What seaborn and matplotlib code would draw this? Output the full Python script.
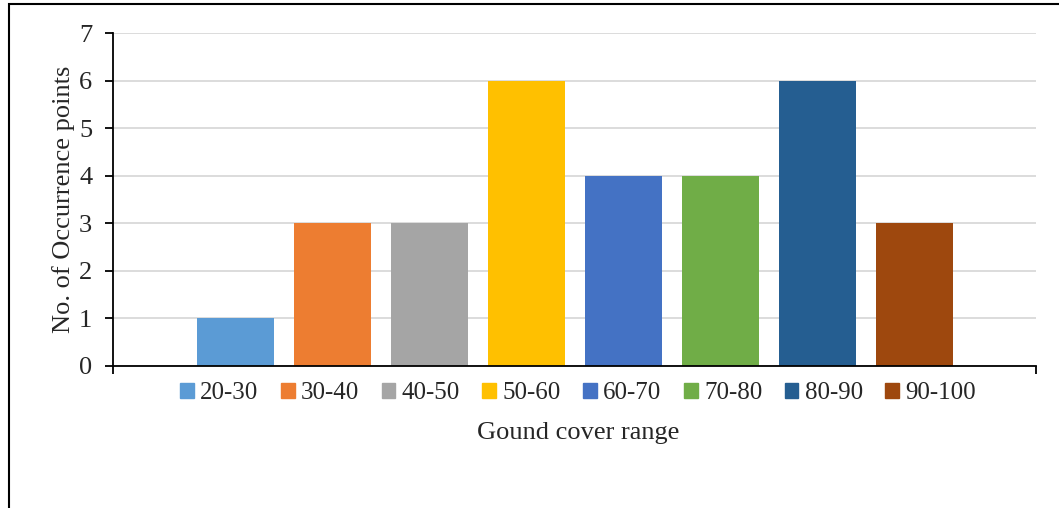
import numpy as np
import pandas as pd
import seaborn as sns
import matplotlib.pyplot as plt
from matplotlib.patches import Rectangle

# data
ranges = ['20-30', '30-40', '40-50', '50-60', '60-70', '70-80', '80-90', '90-100']
occurrences = [1, 3, 3, 6, 4, 4, 6, 3]
colors = ['#5B9BD5', '#ED7D31', '#A5A5A5', '#FFC000',
          '#4472C4', '#70AD47', '#255E91', '#9E480E']

df = pd.DataFrame({'range': ranges, 'count': occurrences})

sns.set_style("white")
plt.rcParams['font.family'] = ['Liberation Serif', 'DejaVu Serif']

fig = plt.figure(figsize=(10.59, 5.08), dpi=100)
ax = fig.add_axes([113 / 1059, 1 - 366 / 508, 923 / 1059, 333 / 508])

sns.barplot(data=df, x='range', y='count', hue='range', palette=colors,
            width=0.794, dodge=False, legend=False, saturation=1,
            linewidth=0, ax=ax)

ax.set_xlim(-1.263, 8.253)
ax.set_ylim(0, 7)
ax.set_yticks(range(0, 8))
ax.yaxis.grid(True, color='#D9D9D9', linewidth=1.3)
ax.set_axisbelow(True)

# x axis: only the end ticks, like Excel's single category
ax.set_xticks([-1.263, 8.253])
ax.set_xticklabels([])
ax.tick_params(axis='x', direction='out', length=6, width=1.3, color='black', bottom=True)
ax.tick_params(axis='y', direction='out', length=6, width=1.3, color='black',
               left=True, labelsize=19, pad=9)

for s in ['top', 'right']:
    ax.spines[s].set_visible(False)
for s in ['left', 'bottom']:
    ax.spines[s].set_color('black')
    ax.spines[s].set_linewidth(1.3)

ax.set_ylabel('No. of Occurrence points', fontsize=19, labelpad=3)
ax.set_xlabel('')

# legend below
handles = [Rectangle((0, 0), 1, 1, color=c) for c in colors]
fig.legend(handles, ranges, loc='center', bbox_to_anchor=(578 / 1059, 1 - 393 / 508),
           ncol=8, frameon=False, fontsize=18, handlelength=0.55, handleheight=0.55,
           handletextpad=0.25, columnspacing=0.9)

fig.text(578 / 1059, 1 - 433 / 508, 'Gound cover range', ha='center', va='center', fontsize=19)

# outer chart border (cropped at right and bottom)
fig.patches.append(Rectangle((9 / 1059, -0.2), 1.2, 1.2 - 4 / 508,
                             transform=fig.transFigure, fill=False,
                             edgecolor='black', linewidth=1.5))

plt.savefig('out.png', dpi=100)
